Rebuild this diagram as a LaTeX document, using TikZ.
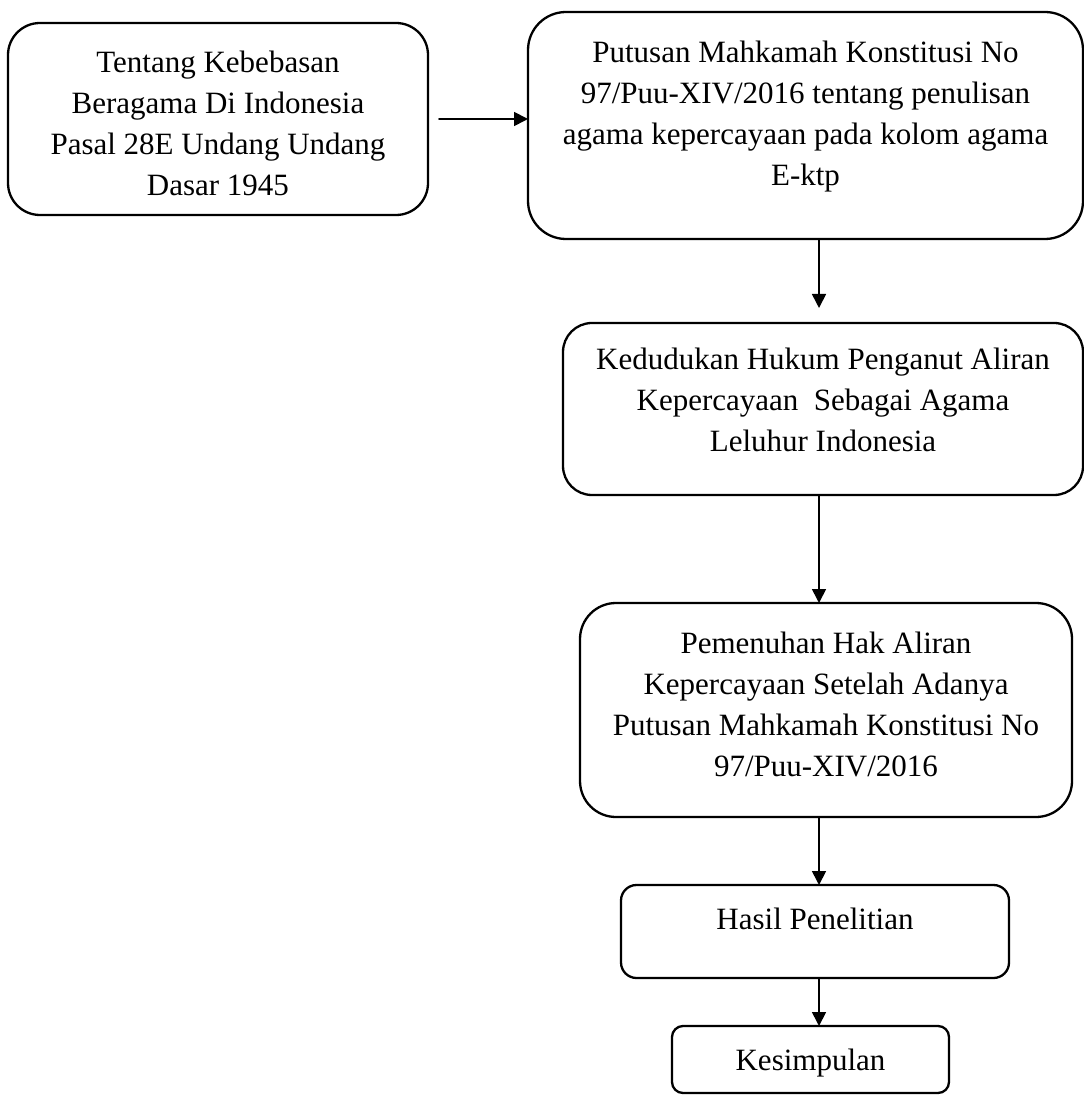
\documentclass[tikz,border=0pt]{standalone}
\usepackage{fontspec}
\setmainfont{Liberation Serif}
\usetikzlibrary{arrows.meta}
\tikzset{
  kotak/.style={draw, line width=1.15pt, inner sep=0pt, outer sep=0pt},
  panah/.style={-{Triangle[length=7pt,width=7pt]}, line width=0.85pt},
}
\newcommand{\isikotak}[4]{\parbox[c][#2][t]{#1}{\centering\rule{0pt}{#3}#4}}
\begin{document}
\begin{tikzpicture}[x=0.5pt, y=-0.5pt, line cap=round, line join=round, font=\fontsize{15.5pt}{20.5pt}\selectfont]
	\useasboundingbox (0,0) rectangle (1083,1095);
	\coordinate (jalur) at (819,0);
	\node[kotak, rounded corners=16pt] (kebebasan) at (218,119) {\isikotak{210pt}{96pt}{25pt}{Tentang Kebebasan\\ Beragama Di Indonesia\\ Pasal 28E Undang Undang\\ Dasar 1945}};
	\node[kotak, rounded corners=19pt] (putusan) at (805.5,125.5) {\isikotak{277.5pt}{113.5pt}{25.5pt}{Putusan Mahkamah Konstitusi No\\ 97/Puu-XIV/2016 tentang penulisan\\ agama kepercayaan pada kolom agama\\ E-ktp}};
	\node[kotak, rounded corners=14.5pt] (kedudukan) at (823,409) {\isikotak{260pt}{86pt}{23.5pt}{Kedudukan Hukum Penganut Aliran\\ Kepercayaan~ Sebagai Agama\\ Leluhur Indonesia}};
	\node[kotak, rounded corners=18pt] (pemenuhan) at (826,710) {\isikotak{246pt}{107pt}{25pt}{Pemenuhan Hak Aliran\\ Kepercayaan Setelah Adanya\\ Putusan Mahkamah Konstitusi No\\ 97/Puu-XIV/2016}};
	\node[kotak, rounded corners=7.75pt] (hasil) at (815,931.5) {\isikotak{194pt}{46.5pt}{22pt}{Hasil Penelitian}};
	\node[kotak, rounded corners=5.5pt] (kesimpulan) at (810.5,1059.5) {\isikotak{138.5pt}{33.5pt}{22pt}{Kesimpulan}};
	\draw[panah, shorten <=5.5pt] (kebebasan.east) -- (kebebasan.east -| putusan.west);
	\draw[panah, shorten >=7.5pt] (putusan.south -| jalur) -- (kedudukan.north -| jalur);
	\draw[panah] (kedudukan.south -| jalur) -- (pemenuhan.north -| jalur);
	\draw[panah] (pemenuhan.south -| jalur) -- (hasil.north -| jalur);
	\draw[panah] (hasil.south -| jalur) -- (kesimpulan.north -| jalur);
\end{tikzpicture}
\end{document}
